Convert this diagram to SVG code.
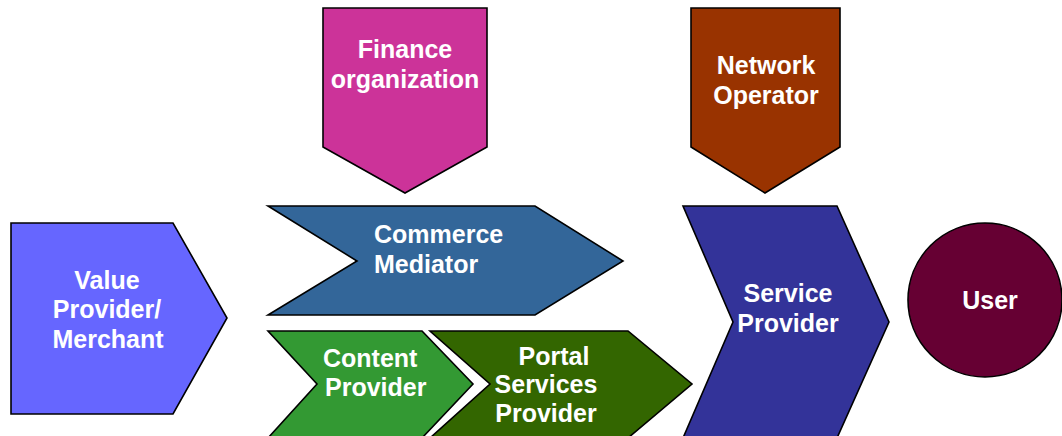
<svg xmlns="http://www.w3.org/2000/svg" width="1062" height="436" viewBox="0 0 1062 436">
  <style>
    .shape { stroke: #000000; stroke-width: 1.6; stroke-linejoin: miter; }
    .label { font-family: "Liberation Sans", Arial, sans-serif; font-weight: bold; font-size: 25px; fill: #ffffff; }
    .mid { text-anchor: middle; }
  </style>
  <rect width="1062" height="436" fill="#ffffff"/>

  <g id="connectors"/>

  <g id="finance-organization">
    <polygon class="shape" fill="#cc3399" points="323,8 487,8 487,147 405,193 323,147"/>
    <text class="label mid" x="405" y="58">Finance</text>
    <text class="label mid" x="405" y="88">organization</text>
  </g>

  <g id="network-operator">
    <polygon class="shape" fill="#993300" points="691,8 840,8 840,147 765,193 691,147"/>
    <text class="label mid" x="766" y="74">Network</text>
    <text class="label mid" x="766" y="104">Operator</text>
  </g>

  <g id="value-provider">
    <polygon class="shape" fill="#6666ff" points="11,223 173,223 227,318 173,414 11,414"/>
    <text class="label mid" x="107" y="289">Value</text>
    <text class="label mid" x="107" y="318">Provider/</text>
    <text class="label mid" x="108" y="348">Merchant</text>
  </g>

  <g id="commerce-mediator">
    <polygon class="shape" fill="#336699" points="268,206 535,206 623,261 535,315 268,315 357,261"/>
    <text class="label" x="374" y="243">Commerce</text>
    <text class="label" x="374" y="273">Mediator</text>
  </g>

  <g id="content-provider">
    <polygon class="shape" fill="#339933" points="268,331 422,331 473,384 422,438 268,438 317,384"/>
    <text class="label" x="323" y="367">Content</text>
    <text class="label" x="325" y="396">Provider</text>
  </g>

  <g id="portal-services-provider">
    <polygon class="shape" fill="#336600" points="430,331 628,331 692,384 628,438 430,438 490,384"/>
    <text class="label mid" x="554" y="365">Portal</text>
    <text class="label mid" x="546" y="393">Services</text>
    <text class="label mid" x="546" y="422">Provider</text>
  </g>

  <g id="service-provider">
    <polygon class="shape" fill="#333399" points="683,206 837,206 889,322 837,438 683,438 733,322"/>
    <text class="label mid" x="788" y="302">Service</text>
    <text class="label mid" x="788" y="332">Provider</text>
  </g>

  <g id="user">
    <ellipse class="shape" fill="#660033" cx="985" cy="300" rx="77" ry="77"/>
    <text class="label mid" x="990" y="309">User</text>
  </g>
</svg>
